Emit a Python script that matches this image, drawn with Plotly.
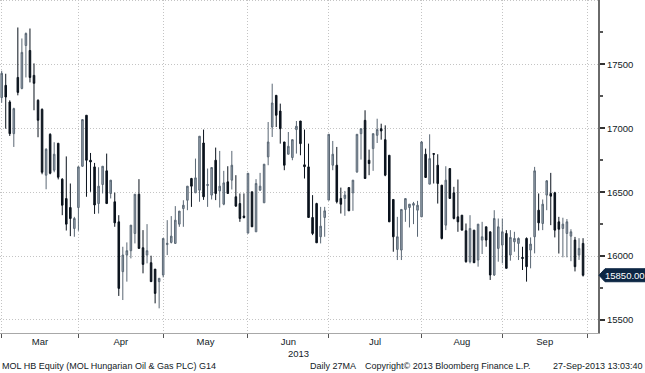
import plotly.graph_objects as go

# ---- data (MOL HB Equity, daily, Mar-Sep 2013) ----
open_ = [17240, 17336, 17206, 16958, 17398, 17312, 17648, 17609, 17414, 17219,
         17148, 16633, 16953, 16672, 16883, 16602, 16450, 16380, 16216, 16380,
         16703, 17102, 16750, 16698, 16411, 16560, 16667, 16490, 16425, 16268,
         15878, 16008, 16042, 16177, 16484, 16065, 16008, 15948, 15898, 15800,
         15852, 16090, 16107, 16099, 16250, 16372, 16437, 16607, 16495, 16516,
         16885, 16552, 16477, 16750, 16510, 16406, 16581, 16594, 16464, 16411,
         16313, 16180, 16503, 16190, 16516, 16417, 16776, 17010, 17258, 17135,
         16893, 16797, 16771, 16990, 17057, 16714, 16698, 16302, 16411, 16151,
         16302, 16438, 16711, 16711, 16451, 16451, 16536, 16495, 16659, 16958,
         17062, 16750, 16841, 16945, 16997, 16911, 16789, 16443, 16052, 16047,
         16365, 16380, 16398, 16359, 16307, 16797, 16563, 16802, 16711, 16555,
         16242, 16685, 16495, 16307, 16320, 16198, 15956, 16203, 15969, 16125,
         16229, 16190, 15852, 16060, 16086, 16177, 16008, 16112, 16099, 15990,
         16138, 16047, 16151, 16359, 16255, 16477, 16490, 16495, 16268, 16216,
         16177, 16156, 16125, 16008, 16099]
high = [17450, 17427, 17219, 17161, 17789, 17703, 17750, 17781, 17508, 17227,
        17156, 16844, 16961, 16891, 16883, 16609, 16780, 16568, 16307, 16703,
        17070, 17102, 16807, 16729, 16695, 16703, 16802, 16594, 16497, 16320,
        16073, 16107, 16242, 16484, 16602, 16203, 16250, 16003, 15898, 15826,
        16138, 16281, 16313, 16391, 16352, 16437, 16547, 16612, 16763, 16938,
        16990, 16685, 16693, 16849, 16823, 16667, 16703, 16823, 16633, 16490,
        16490, 16650, 16503, 16602, 16651, 16719, 17049, 17349, 17258, 17193,
        16893, 16971, 16911, 17057, 17057, 16990, 16880, 16477, 16417, 16385,
        16385, 16953, 16901, 16854, 16536, 16510, 16536, 16594, 16953, 16997,
        17141, 16833, 16958, 17075, 17036, 17023, 16789, 16443, 16307, 16365,
        16450, 16406, 16424, 16432, 16901, 16841, 16953, 16802, 16797, 16555,
        16703, 16685, 16542, 16599, 16320, 16255, 16320, 16203, 16250, 16268,
        16229, 16190, 16359, 16294, 16294, 16203, 16203, 16190, 16146, 16073,
        16146, 16146, 16698, 16490, 16443, 16594, 16651, 16503, 16307, 16300,
        16290, 16210, 16150, 16140, 16140]
low = [17200, 16997, 16940, 16854, 17258, 17305, 17398, 17359, 17141, 16930,
       16640, 16523, 16640, 16656, 16600, 16320, 16200, 16156, 16151, 16198,
       16698, 16464, 16503, 16330, 16333, 16490, 16411, 16451, 16229, 15688,
       15656, 15800, 15982, 16099, 16060, 15865, 15943, 15800, 15630, 15591,
       15833, 16008, 16099, 16099, 16229, 16229, 16359, 16385, 16495, 16425,
       16440, 16385, 16443, 16438, 16380, 16398, 16490, 16521, 16385, 16268,
       16294, 16177, 16229, 16190, 16510, 16417, 16711, 16932, 17010, 16880,
       16672, 16797, 16750, 16802, 16789, 16607, 16302, 16164, 16104, 16099,
       16151, 16438, 16672, 16412, 16333, 16315, 16354, 16354, 16651, 16755,
       16607, 16633, 16667, 16885, 16911, 16625, 16268, 16034, 15969, 15969,
       16268, 16224, 16250, 16151, 16307, 16615, 16563, 16568, 16411, 16130,
       16203, 16451, 16287, 16190, 16203, 15948, 15943, 15948, 15917, 16016,
       16073, 15813, 15844, 15956, 15943, 15904, 15964, 16034, 15969, 15891,
       15800, 15904, 16021, 16200, 16203, 16359, 16242, 16146, 16020, 15990,
       15990, 15960, 15880, 15970, 15840]
close = [17430, 17245, 16958, 17154, 17281, 17594, 17742, 17398, 17352, 17063,
         16656, 16836, 16648, 16797, 16617, 16398, 16250, 16294, 16294, 16698,
         17068, 16750, 16737, 16400, 16547, 16703, 16411, 16594, 16260, 15747,
         16008, 16042, 16242, 16484, 16060, 15935, 16042, 15800, 15708, 15826,
         16138, 16100, 16156, 16281, 16352, 16398, 16547, 16547, 16612, 16938,
         16464, 16560, 16693, 16490, 16547, 16573, 16490, 16711, 16391, 16294,
         16302, 16648, 16229, 16568, 16547, 16719, 16893, 17198, 17102, 16997,
         16711, 16859, 16911, 17016, 16880, 16700, 16302, 16177, 16104, 16234,
         16354, 16953, 16797, 16425, 16406, 16477, 16354, 16594, 16953, 16997,
         16607, 16724, 16958, 16990, 16979, 16633, 16268, 16151, 16151, 16365,
         16450, 16406, 16411, 16398, 16893, 16615, 16763, 16797, 16568, 16138,
         16594, 16451, 16294, 16268, 16203, 15956, 16216, 15948, 16250, 16151,
         16125, 15852, 16294, 16229, 16190, 15904, 16146, 16138, 16138, 15982,
         15917, 16094, 16667, 16260, 16406, 16589, 16469, 16203, 16210, 16250,
         16268, 16190, 15917, 16060, 15850]

month_names = ["Mar", "Apr", "May", "Jun", "Jul", "Aug", "Sep"]
month_start = [0, 19, 40, 61, 81, 104, 124, 145]   # index of first session of each month
price_ticks = [15500, 16000, 16500, 17000, 17500]
price_labels = ["15500", "16000", "16500", "17000", "17500"]
price_minor = [15750, 16250, 16750, 17250, 17750]
last_price = close[-1]

x = list(range(len(close)))
label_pos = [(month_start[k] + month_start[k + 1]) / 2 for k in range(len(month_names))]

Y0, Y1 = 15398, 18004
TXT = "#121a26"
GRID = "#c4c4c4"
DOT = "1px,2px"
FONT = "Liberation Sans"

fig = go.Figure()
fig.add_trace(go.Candlestick(
    x=x, open=open_, high=high, low=low, close=close,
    increasing=dict(line=dict(color="#5a6774", width=1), fillcolor="#9aa6b3"),
    decreasing=dict(line=dict(color="#0a121c", width=1), fillcolor="#0a121c"),
    whiskerwidth=0, showlegend=False, hoverinfo="skip",
))

fig.update_layout(
    width=645, height=373,
    margin=dict(l=0, r=47, t=0, b=40),
    paper_bgcolor="white", plot_bgcolor="white",
    font=dict(family=FONT, size=9.5, color=TXT),
    showlegend=False,
    boxgap=0.45,
    xaxis=dict(
        range=[-0.42, 147.7], rangeslider=dict(visible=False),
        tickmode="array", tickvals=label_pos, ticktext=month_names,
        ticks="", showgrid=False, zeroline=False,
        showline=True, linecolor="#a8a8a8", linewidth=1,
        tickfont=dict(size=9.5, color=TXT, family=FONT),
        minor=dict(tickmode="array", tickvals=month_start, ticks="outside",
                   ticklen=4, tickcolor="#555555", showgrid=True,
                   gridcolor=GRID, griddash=DOT, gridwidth=1),
    ),
    yaxis=dict(
        side="right", range=[Y0, Y1],
        tickmode="array", tickvals=price_ticks, ticktext=price_labels,
        ticks="outside", ticklen=5, tickwidth=2, tickcolor="#333333",
        showline=True, linecolor="#6a6a6a", linewidth=2,
        showgrid=True, gridcolor=GRID, griddash=DOT, gridwidth=1,
        zeroline=False,
        tickfont=dict(size=9.5, color=TXT, family=FONT),
        minor=dict(tickmode="array", tickvals=price_minor, ticks="outside",
                   ticklen=3, tickcolor="#555555", showgrid=False),
    ),
)

# top dotted grid line (18000)
fig.add_shape(type="line", xref="paper", yref="y", x0=0, x1=1, y0=18000, y1=18000,
              line=dict(color=GRID, width=1, dash=DOT))

# last price tag
W = 598.0
yp = (last_price - Y0) / (Y1 - Y0)
hh = 6.5 / 333
tip, left, right = 599 / W, 605 / W, 645 / W
fig.add_shape(type="path", xref="paper", yref="paper",
              path=f"M {tip},{yp} L {left},{yp + hh} L {right},{yp + hh} L {right},{yp - hh} L {left},{yp - hh} Z",
              fillcolor="#0d2744", line=dict(color="#0d2744", width=1), layer="above")
fig.add_annotation(x=(left + right) / 2, y=yp, xref="paper", yref="paper",
                   text=f"{last_price:.2f}", showarrow=False, xanchor="center", yanchor="middle",
                   font=dict(color="white", size=9.5, family=FONT))

# year under Jun
fig.add_annotation(x=298 / W, y=(333 - 353) / 333, xref="paper", yref="paper",
                   text="2013", showarrow=False, xanchor="center", yanchor="middle",
                   font=dict(size=9.5, color=TXT, family=FONT))

# footer
fy = (333 - 366) / 333
footer = [
    (0, "left", "MOL HB Equity (MOL Hungarian Oil &amp; Gas PLC) G14"),
    (358, "right", "Daily 27MA"),
    (363, "left", "Copyright© 2013 Bloomberg Finance L.P."),
    (645, "right", "27-Sep-2013 13:03:40"),
]
for px, anc, txt in footer:
    fig.add_annotation(x=px / W, y=fy, xref="paper", yref="paper", text=txt,
                       showarrow=False, xanchor=anc, yanchor="middle", xshift=0,
                       font=dict(size=9, color=TXT, family=FONT))

fig.write_html("out.html", config={"displayModeBar": False},
               post_script="document.body.style.margin='0px';")
